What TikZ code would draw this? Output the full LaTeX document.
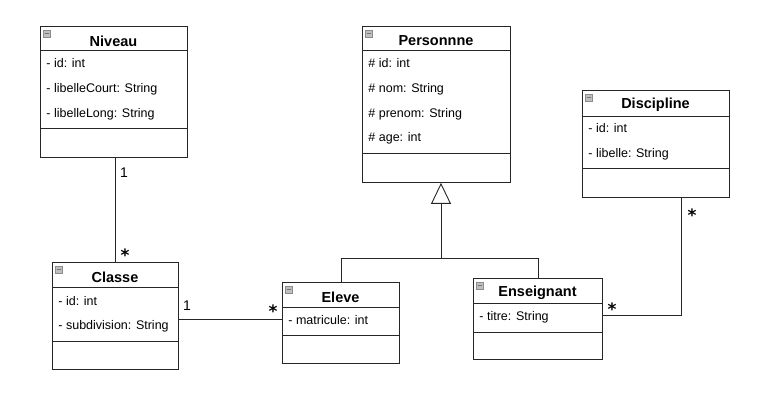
\documentclass[tikz,border=0pt]{standalone}
\usepackage{fontspec}
\setmainfont{Liberation Sans}
\newfontfamily\starfont{DejaVu Sans}
\usetikzlibrary{arrows.meta}

\begin{document}
\begin{tikzpicture}[x=1pt,y=-1pt,line width=0.9pt,
    classbox/.style={draw=black!85,anchor=north west,inner sep=0pt},
    title/.style={font=\bfseries\fontsize{14.5}{16}\selectfont},
    attr/.style={anchor=west,inner sep=0pt,text height=9pt,text depth=2.5pt,
                 font=\fontsize{12.5}{14}\selectfont},
    mult/.style={anchor=base,inner sep=0pt,font=\fontsize{14}{16}\selectfont},
    many/.style={anchor=base,inner sep=0pt,font=\starfont\bfseries\fontsize{17}{18}\selectfont},
    icon/.style={fill=black!25,draw=black!45,line width=0.5pt}]
                \useasboundingbox (0,0) rectangle (771,403);
                % classes
                \node [classbox,minimum width=147pt,minimum height=131pt] (niveau) at (40,26) {};
                \node [classbox,minimum width=148pt,minimum height=156pt] (personne) at (362,26) {};
                \node [classbox,minimum width=147pt,minimum height=107pt] (discipline) at (582,90) {};
                \node [classbox,minimum width=126pt,minimum height=107pt] (classe) at (52,262) {};
                \node [classbox,minimum width=117pt,minimum height=81pt] (eleve) at (282,282) {};
                \node [classbox,minimum width=129pt,minimum height=81pt] (enseignant) at (473,278) {};
                \draw[black!85] (40,50)--(187,50) (40,128)--(187,128)
                      (362,50)--(510,50) (362,153)--(510,153)
                      (582,116)--(729,116) (582,168)--(729,168)
                      (52,287)--(178,287) (52,341)--(178,341)
                      (282,307)--(399,307) (282,335)--(399,335)
                      (473,303)--(602,303) (473,332)--(602,332);
                \foreach \b in {niveau,personne,discipline,classe,eleve,enseignant}
                    {\filldraw[icon] ([shift={(3,4)}]\b.north west) rectangle ++(7,7);
                     \draw[black!55,line width=0.7pt] ([shift={(4.5,7.5)}]\b.north west) -- ++(4,0);}
                % titres
                \node [title] (tniveau) at (113.5,41) {Niveau};
                \node [title] (tpersonne) at (436,41) {Personnne};
                \node [title] (tdiscipline) at (655.5,105) {Discipline};
                \node [title] (tclasse) at (115,277) {Classe};
                \node [title] (televe) at (340.5,297) {Eleve};
                \node [title] (tenseignant) at (537.5,293) {Enseignant};
                % attributs
                \node [attr] (n1) at (46,64) {- id: int};
                \node [attr] (n2) at (46,89) {- libelleCourt: String};
                \node [attr] (n3) at (46,114) {- libelleLong: String};
                \node [attr] (p1) at (368,64) {\# id: int};
                \node [attr] (p2) at (368,89) {\# nom: String};
                \node [attr] (p3) at (368,114) {\# prenom: String};
                \node [attr] (p4) at (368,138) {\# age: int};
                \node [attr] (d1) at (588,129) {- id: int};
                \node [attr] (d2) at (588,154) {- libelle: String};
                \node [attr] (c1) at (58,302) {- id: int};
                \node [attr] (c2) at (58,326) {- subdivision: String};
                \node [attr] (e1) at (288,321) {- matricule: int};
                \node [attr] (s1) at (479,317) {- titre: String};
                % liens
                \coordinate (j) at (441,258);
                \coordinate (ce) at (230,319);
                \coordinate (ed) at (681,315);
                \draw[black!85,-{Triangle[open,length=21pt,width=20pt,line width=0.9pt]}]
                      (j) -- (j |- personne.south);
                \draw[black!85] (eleve.north) -- (eleve.north |- j) -- (enseignant.north |- j) -- (enseignant.north);
                \draw[black!85] (classe.north -| 115,0) -- (niveau.south -| 115,0);
                \draw[black!85] (classe.east |- ce) -- (eleve.west |- ce);
                \draw[black!85] (enseignant.east |- ed) -- (ed) -- (discipline.south -| ed);
                % multiplicites
                \node [mult] (m1) at (124,178) {1};
                \node [many] (m2) at (125,262) {*};
                \node [mult] (m3) at (187,311) {1};
                \node [many] (m4) at (273,318) {*};
                \node [many] (m5) at (692,222) {*};
                \node [many] (m6) at (612,316) {*};
            \end{tikzpicture}
\end{document}
